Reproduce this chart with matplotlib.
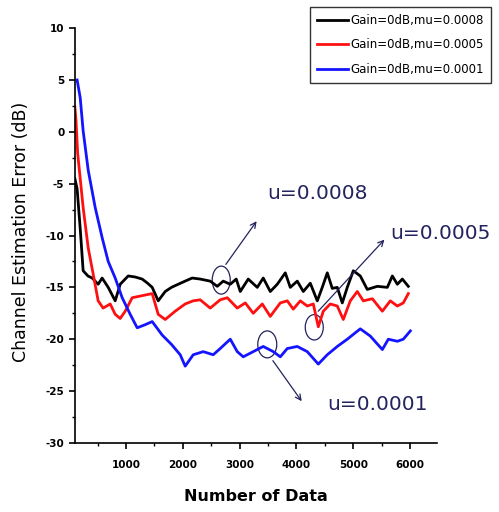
import matplotlib
matplotlib.use("Agg")
import matplotlib.pyplot as plt
from matplotlib.patches import Ellipse
from matplotlib.ticker import MultipleLocator

# ---- data ----
black_x = [100, 140, 194, 246, 330, 405, 510, 580, 687, 810, 898, 1039, 1160, 1285, 1380, 1461,
           1567, 1690, 1800, 1919, 2040, 2165, 2306, 2482, 2606, 2711, 2835, 2940, 3011, 3151,
           3310, 3415, 3539, 3662, 3803, 3891, 4014, 4120, 4243, 4366, 4454, 4542, 4630, 4718,
           4806, 4894, 5000, 5123, 5246, 5423, 5599, 5687, 5775, 5863, 5968]
black_y = [-4.5, -5.5, -9.3, -13.4, -13.9, -14.1, -14.7, -14.1, -15.0, -16.3, -14.7, -13.9, -14.0,
           -14.2, -14.6, -15.0, -16.3, -15.4, -15.0, -14.7, -14.4, -14.1, -14.2, -14.4, -14.9,
           -14.4, -14.7, -14.2, -15.4, -14.2, -15.0, -14.1, -15.4, -14.7, -13.6, -15.0, -14.4,
           -15.4, -14.6, -16.3, -15.0, -13.6, -15.1, -15.0, -16.5, -15.0, -13.4, -13.9, -15.2,
           -14.9, -15.0, -13.9, -14.7, -14.2, -14.9]

red_x = [100, 120, 150, 246, 335, 422, 510, 598, 722, 810, 898, 986, 1109, 1285, 1461, 1567,
         1690, 1866, 2042, 2183, 2306, 2482, 2658, 2782, 2958, 3099, 3239, 3398, 3539, 3715,
         3838, 3944, 4067, 4190, 4296, 4384, 4472, 4595, 4718, 4824, 4947, 5070, 5176, 5335,
         5511, 5651, 5775, 5880, 5968]
red_y = [2.4, 1.1, -2.1, -7.3, -11.2, -13.7, -16.3, -17.0, -16.6, -17.6, -18.0, -17.3, -16.0,
         -15.8, -15.6, -17.6, -18.1, -17.3, -16.6, -16.3, -16.2, -17.0, -16.2, -16.0, -17.0,
         -16.5, -17.5, -16.6, -17.8, -16.5, -16.3, -17.1, -16.3, -16.8, -16.6, -18.8, -17.3,
         -16.6, -16.8, -18.1, -16.3, -15.4, -16.3, -16.1, -17.3, -16.3, -16.8, -16.5, -15.6]

blue_x = [140, 194, 246, 335, 458, 580, 687, 810, 933, 1074, 1197, 1338, 1461, 1637, 1800,
          1954, 2042, 2183, 2359, 2535, 2658, 2835, 2958, 3063, 3239, 3415, 3592, 3715, 3838,
          4014, 4190, 4384, 4542, 4718, 4894, 5123, 5299, 5511, 5616, 5775, 5880, 6004]
blue_y = [5.0, 3.3, 0.1, -3.7, -7.3, -10.2, -12.5, -14.1, -16.0, -17.6, -18.9, -18.6, -18.3,
          -19.6, -20.5, -21.5, -22.6, -21.5, -21.2, -21.5, -20.9, -20.0, -21.2, -21.7, -21.2,
          -20.7, -21.2, -21.7, -20.9, -20.7, -21.2, -22.4, -21.5, -20.7, -20.0, -19.0, -19.7,
          -21.0, -20.0, -20.2, -20.0, -19.2]

series_labels = ["Gain=0dB,mu=0.0008", "Gain=0dB,mu=0.0005", "Gain=0dB,mu=0.0001"]
xtick_vals = [1000, 2000, 3000, 4000, 5000, 6000]
ytick_vals = [10, 5, 0, -5, -10, -15, -20, -25, -30]

navy = "#23235e"

fig = plt.figure(figsize=(4.99, 5.12), dpi=100)
ax = fig.add_axes([0.150, 0.135, 0.726, 0.810])

l1, = ax.plot(black_x, black_y, color="black", lw=2.0)
l2, = ax.plot(red_x, red_y, color="#ff1010", lw=2.0)
l3, = ax.plot(blue_x, blue_y, color="#1414ff", lw=2.0)

ax.set_xlim(100, 6475)
ax.set_ylim(-30, 10)
ax.spines["top"].set_visible(False)
ax.spines["right"].set_visible(False)
ax.spines["left"].set_linewidth(1.2)
ax.spines["bottom"].set_linewidth(1.2)

ax.set_xticks(xtick_vals)
ax.set_xticklabels([str(v) for v in xtick_vals], fontsize=7.5, fontweight="bold")
ax.xaxis.set_minor_locator(MultipleLocator(500))
ax.set_yticks(ytick_vals)
ax.set_yticklabels([str(v) for v in ytick_vals], fontsize=7.5, fontweight="bold")
ax.yaxis.set_minor_locator(MultipleLocator(2.5))
ax.tick_params(which="major", direction="out", length=4, width=1.2)
ax.tick_params(which="minor", direction="out", length=2.5, width=1.0)
ax.tick_params(axis="x", pad=8)

ax.set_ylabel("Channel Estimation Error (dB)", fontsize=12.5)
ax.yaxis.set_label_coords(-0.124, 0.508)
ax.set_xlabel("Number of Data", fontsize=11.5, fontweight="bold", labelpad=14)

# annotations
ax.add_patch(Ellipse((2676, -14.3), 317, 2.7, fill=False, ec=navy, lw=0.9))
ax.add_patch(Ellipse((4313, -18.85), 317, 2.45, fill=False, ec=navy, lw=0.9))
ax.add_patch(Ellipse((3486, -20.5), 334, 2.6, fill=False, ec=navy, lw=0.9))
arrow = dict(arrowstyle="->", color=navy, lw=0.9)
ax.annotate("", xy=(3327, -8.4), xytext=(2729, -13.0), arrowprops=arrow)
ax.annotate("", xy=(5581, -10.2), xytext=(4349, -17.5), arrowprops=arrow, annotation_clip=False)
ax.annotate("", xy=(4120, -26.2), xytext=(3556, -21.85), arrowprops=arrow)
ax.text(3486, -5.9, "u=0.0008", color=navy, fontsize=14.5, ha="left", va="center")
ax.text(5651, -9.85, "u=0.0005", color=navy, fontsize=14.5, ha="left", va="center", clip_on=False)
ax.text(4542, -26.3, "u=0.0001", color=navy, fontsize=14.5, ha="left", va="center")

leg = fig.legend([l1, l2, l3], series_labels, loc="upper right",
                 bbox_to_anchor=(0.984, 0.986), fontsize=8.5, frameon=True,
                 fancybox=False, edgecolor="black", handlelength=2.6,
                 handletextpad=0.2, borderpad=0.6, labelspacing=0.95,
                 borderaxespad=0.0)
leg.get_frame().set_linewidth(1.0)

fig.savefig("out.png", dpi=100)
